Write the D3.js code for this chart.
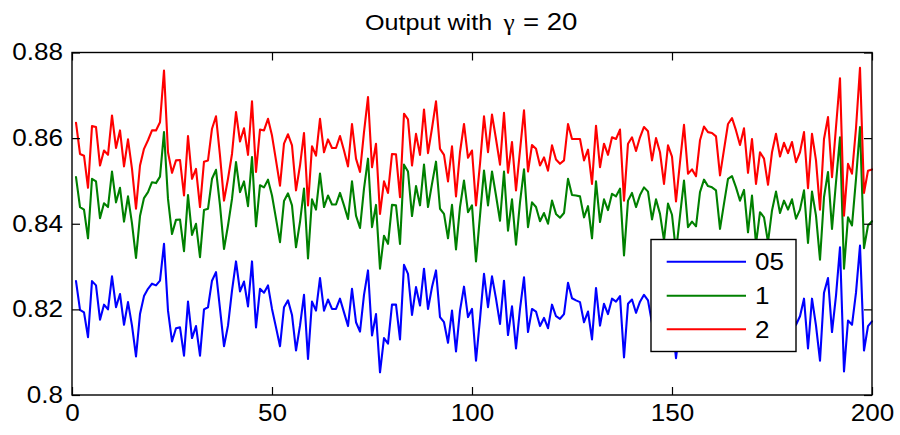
<!DOCTYPE html>
<html>
<head>
<meta charset="utf-8">
<script src="https://cdn.jsdelivr.net/npm/d3@7"></script>
<style>
  html, body { margin: 0; padding: 0; background: #fff; }
  svg { display: block; }
  text { font-family: "Liberation Sans", Arial, Helvetica, sans-serif; fill: #000; }
</style>
</head>
<body>
<svg id="chart" width="900" height="435"></svg>
<script>
// ---------------- data ----------------
const titlePrefix = "Output with";
const titleSymbol = "\u03B3";
const titleSuffix = "= 20";
const seriesNames = ["05", "1", "2"];
const seriesColors = ["#0000ff", "#008000", "#ff0000"];
const xTickValues = [0, 50, 100, 150, 200];
const yTickValues = [0.8, 0.82, 0.84, 0.86, 0.88];
const xDomain = [0, 200];
const yDomain = [0.8, 0.88];

const series05 = [
  0.8266, 0.8199, 0.8193, 0.8135, 0.8266, 0.8256, 0.8176, 0.8211, 0.8200, 0.8277,
  0.8205, 0.8236, 0.8164, 0.8217, 0.8162, 0.8090, 0.8189, 0.8231, 0.8248, 0.8260,
  0.8256, 0.8267, 0.8353, 0.8197, 0.8125, 0.8156, 0.8158, 0.8092, 0.8218, 0.8133,
  0.8161, 0.8092, 0.8200, 0.8205, 0.8267, 0.8287, 0.8201, 0.8114, 0.8162, 0.8244,
  0.8312, 0.8242, 0.8265, 0.8207, 0.8312, 0.8158, 0.8248, 0.8239, 0.8256, 0.8201,
  0.8158, 0.8114, 0.8205, 0.8221, 0.8187, 0.8104, 0.8162, 0.8234, 0.8084, 0.8218,
  0.8197, 0.8273, 0.8197, 0.8223, 0.8201, 0.8201, 0.8225, 0.8193, 0.8161, 0.8248,
  0.8170, 0.8148, 0.8234, 0.8291, 0.8139, 0.8189, 0.8053, 0.8133, 0.8120, 0.8211,
  0.8211, 0.8130, 0.8304, 0.8283, 0.8187, 0.8252, 0.8209, 0.8295, 0.8201, 0.8252,
  0.8291, 0.8182, 0.8170, 0.8122, 0.8197, 0.8102, 0.8197, 0.8253, 0.8182, 0.8201,
  0.8080, 0.8178, 0.8283, 0.8205, 0.8277, 0.8225, 0.8166, 0.8267, 0.8140, 0.8207,
  0.8109, 0.8201, 0.8275, 0.8147, 0.8201, 0.8195, 0.8161, 0.8180, 0.8156, 0.8211,
  0.8184, 0.8178, 0.8189, 0.8262, 0.8226, 0.8221, 0.8217, 0.8170, 0.8195, 0.8130,
  0.8250, 0.8162, 0.8213, 0.8189, 0.8225, 0.8218, 0.8231, 0.8088, 0.8213, 0.8223,
  0.8192, 0.8218, 0.8234, 0.8221, 0.8168, 0.8212, 0.8184, 0.8121, 0.8197, 0.8179,
  0.8086, 0.8165, 0.8239, 0.8141, 0.8150, 0.8137, 0.8207, 0.8235, 0.8224, 0.8222,
  0.8215, 0.8138, 0.8189, 0.8240, 0.8252, 0.8227, 0.8199, 0.8232, 0.8144, 0.8211,
  0.8121, 0.8184, 0.8171, 0.8119, 0.8184, 0.8221, 0.8175, 0.8203, 0.8182, 0.8204,
  0.8164, 0.8184, 0.8225, 0.8109, 0.8225, 0.8162, 0.8080, 0.8239, 0.8273, 0.8147,
  0.8232, 0.8345, 0.8055, 0.8174, 0.8164, 0.8239, 0.8349, 0.8104, 0.8161, 0.8172
];

const series1 = [
  0.8509, 0.8439, 0.8433, 0.8366, 0.8505, 0.8499, 0.8413, 0.8448, 0.8439, 0.8522,
  0.8450, 0.8484, 0.8405, 0.8464, 0.8401, 0.8320, 0.8418, 0.8460, 0.8474, 0.8497,
  0.8495, 0.8510, 0.8614, 0.8458, 0.8376, 0.8409, 0.8410, 0.8336, 0.8467, 0.8374,
  0.8400, 0.8322, 0.8432, 0.8435, 0.8505, 0.8526, 0.8443, 0.8341, 0.8396, 0.8458,
  0.8544, 0.8474, 0.8499, 0.8441, 0.8556, 0.8394, 0.8490, 0.8485, 0.8503, 0.8466,
  0.8412, 0.8357, 0.8453, 0.8471, 0.8443, 0.8345, 0.8404, 0.8482, 0.8319, 0.8457,
  0.8433, 0.8517, 0.8439, 0.8466, 0.8445, 0.8445, 0.8472, 0.8443, 0.8411, 0.8499,
  0.8419, 0.8390, 0.8482, 0.8552, 0.8392, 0.8444, 0.8295, 0.8372, 0.8353, 0.8444,
  0.8443, 0.8353, 0.8538, 0.8522, 0.8418, 0.8488, 0.8443, 0.8538, 0.8439, 0.8493,
  0.8545, 0.8435, 0.8423, 0.8366, 0.8444, 0.8340, 0.8439, 0.8501, 0.8427, 0.8443,
  0.8312, 0.8419, 0.8524, 0.8443, 0.8522, 0.8466, 0.8407, 0.8522, 0.8384, 0.8457,
  0.8351, 0.8450, 0.8527, 0.8392, 0.8450, 0.8439, 0.8406, 0.8425, 0.8400, 0.8454,
  0.8423, 0.8414, 0.8425, 0.8505, 0.8467, 0.8466, 0.8464, 0.8415, 0.8441, 0.8366,
  0.8499, 0.8404, 0.8457, 0.8432, 0.8470, 0.8464, 0.8482, 0.8326, 0.8454, 0.8472,
  0.8439, 0.8467, 0.8485, 0.8475, 0.8410, 0.8457, 0.8423, 0.8361, 0.8447, 0.8421,
  0.8334, 0.8419, 0.8501, 0.8392, 0.8405, 0.8394, 0.8474, 0.8503, 0.8488, 0.8485,
  0.8478, 0.8388, 0.8447, 0.8505, 0.8511, 0.8485, 0.8454, 0.8479, 0.8380, 0.8466,
  0.8353, 0.8427, 0.8415, 0.8357, 0.8431, 0.8475, 0.8425, 0.8454, 0.8433, 0.8457,
  0.8412, 0.8433, 0.8478, 0.8355, 0.8475, 0.8419, 0.8316, 0.8462, 0.8521, 0.8388,
  0.8497, 0.8602, 0.8295, 0.8415, 0.8396, 0.8505, 0.8626, 0.8343, 0.8396, 0.8406
];

const series2 = [
  0.8636, 0.8563, 0.8559, 0.8484, 0.8628, 0.8626, 0.8536, 0.8571, 0.8561, 0.8653,
  0.8577, 0.8618, 0.8534, 0.8597, 0.8528, 0.8435, 0.8536, 0.8575, 0.8595, 0.8618,
  0.8618, 0.8637, 0.8758, 0.8567, 0.8519, 0.8548, 0.8549, 0.8466, 0.8605, 0.8505,
  0.8528, 0.8439, 0.8545, 0.8548, 0.8622, 0.8651, 0.8559, 0.8454, 0.8505, 0.8563,
  0.8661, 0.8592, 0.8623, 0.8561, 0.8686, 0.8521, 0.8620, 0.8618, 0.8645, 0.8606,
  0.8548, 0.8489, 0.8587, 0.8609, 0.8583, 0.8478, 0.8536, 0.8612, 0.8443, 0.8581,
  0.8559, 0.8645, 0.8567, 0.8597, 0.8577, 0.8577, 0.8605, 0.8571, 0.8534, 0.8633,
  0.8552, 0.8521, 0.8614, 0.8696, 0.8532, 0.8587, 0.8423, 0.8499, 0.8472, 0.8563,
  0.8562, 0.8462, 0.8657, 0.8644, 0.8536, 0.8610, 0.8561, 0.8667, 0.8565, 0.8623,
  0.8686, 0.8575, 0.8561, 0.8499, 0.8581, 0.8464, 0.8567, 0.8633, 0.8554, 0.8571,
  0.8443, 0.8540, 0.8651, 0.8567, 0.8655, 0.8598, 0.8538, 0.8659, 0.8519, 0.8591,
  0.8478, 0.8571, 0.8665, 0.8522, 0.8584, 0.8575, 0.8536, 0.8555, 0.8524, 0.8583,
  0.8550, 0.8540, 0.8548, 0.8633, 0.8598, 0.8598, 0.8598, 0.8548, 0.8573, 0.8493,
  0.8629, 0.8532, 0.8587, 0.8561, 0.8602, 0.8598, 0.8620, 0.8454, 0.8587, 0.8602,
  0.8570, 0.8602, 0.8626, 0.8616, 0.8548, 0.8600, 0.8567, 0.8493, 0.8583, 0.8557,
  0.8452, 0.8544, 0.8631, 0.8517, 0.8527, 0.8511, 0.8595, 0.8627, 0.8614, 0.8612,
  0.8604, 0.8513, 0.8573, 0.8633, 0.8647, 0.8618, 0.8584, 0.8623, 0.8519, 0.8598,
  0.8493, 0.8567, 0.8552, 0.8491, 0.8567, 0.8610, 0.8557, 0.8589, 0.8565, 0.8591,
  0.8544, 0.8567, 0.8614, 0.8483, 0.8610, 0.8548, 0.8433, 0.8598, 0.8649, 0.8509,
  0.8626, 0.8740, 0.8419, 0.8540, 0.8517, 0.8623, 0.8764, 0.8472, 0.8524, 0.8527
];

const seriesValues = [series05, series1, series2];

// ---------------- layout ----------------
const plotLeft = 72, plotRight = 872, plotTop = 52.5, plotBottom = 395;
const fontStack = '"Liberation Sans", Arial, Helvetica, sans-serif';
const tickFontSize = 23.3;
const stretch = 1.12;

const svg = d3.select("#chart");

const x = d3.scaleLinear().domain(xDomain).range([plotLeft, plotRight]);
const y = d3.scaleLinear().domain(yDomain).range([plotBottom, plotTop]);

svg.append("rect").attr("x", 0).attr("y", 0).attr("width", 900).attr("height", 435).attr("fill", "#fff");

// data lines
const line = d3.line()
  .x((d, i) => x(i + 1))
  .y(d => y(d));

svg.append("g").selectAll("path")
  .data(seriesValues)
  .join("path")
  .attr("d", d => line(d))
  .attr("fill", "none")
  .attr("stroke", (d, i) => seriesColors[i])
  .attr("stroke-width", 2.1)
  .attr("stroke-linejoin", "round")
  .attr("stroke-linecap", "round");

// axes
const styleAxis = g => {
  g.select(".domain").remove();
  g.selectAll(".tick line").attr("stroke", "#000").attr("stroke-width", 1.2);
  g.selectAll(".tick text")
    .attr("fill", "#000")
    .style("font-family", fontStack)
    .style("font-size", tickFontSize + "px")
    .attr("transform", `scale(${stretch},1)`);
};

svg.append("g")
  .attr("transform", `translate(0,${plotBottom})`)
  .call(d3.axisBottom(x).tickValues(xTickValues).tickFormat(d3.format("d"))
    .tickSizeInner(-8).tickSizeOuter(0).tickPadding(9))
  .call(styleAxis);

svg.append("g")
  .attr("transform", `translate(${plotLeft},0)`)
  .call(d3.axisLeft(y).tickValues(yTickValues).tickFormat(d => String(+d.toFixed(2)))
    .tickSizeInner(-8).tickSizeOuter(0).tickPadding(8))
  .call(styleAxis);

svg.append("g")
  .attr("transform", `translate(0,${plotTop})`)
  .call(d3.axisTop(x).tickValues(xTickValues).tickFormat("")
    .tickSizeInner(-8).tickSizeOuter(0))
  .call(styleAxis);

svg.append("g")
  .attr("transform", `translate(${plotRight},0)`)
  .call(d3.axisRight(y).tickValues(yTickValues).tickFormat("")
    .tickSizeInner(-8).tickSizeOuter(0))
  .call(styleAxis);

// box
svg.append("rect")
  .attr("x", plotLeft).attr("y", plotTop)
  .attr("width", plotRight - plotLeft).attr("height", plotBottom - plotTop)
  .attr("fill", "none").attr("stroke", "#000").attr("stroke-width", 1.4);

// title (pieces placed as in the reference)
const title = svg.append("g");
title.append("text")
  .attr("transform", "translate(365,30) scale(1.17,1)")
  .style("font-size", "21.5px")
  .text(titlePrefix);
title.append("text")
  .attr("transform", "translate(509,30) scale(1.1,1)")
  .attr("text-anchor", "middle")
  .style("font-family", '"Liberation Serif", "DejaVu Serif", serif')
  .style("font-size", "23px")
  .text(titleSymbol);
title.append("text")
  .attr("transform", "translate(523,30) scale(1.2,1)")
  .style("font-size", "23px")
  .text(titleSuffix);

// legend
const legendX = 651, legendY = 239.5, legendW = 145, legendH = 112;
const legendRowY = [261.7, 295.7, 329.3];
const legend = svg.append("g");
legend.append("rect")
  .attr("x", legendX).attr("y", legendY)
  .attr("width", legendW).attr("height", legendH)
  .attr("fill", "#fff").attr("stroke", "#000").attr("stroke-width", 1.4);

const rows = legend.selectAll("g.row")
  .data(seriesNames)
  .join("g").attr("class", "row");
rows.append("line")
  .attr("x1", 666.7).attr("x2", 746)
  .attr("y1", (d, i) => legendRowY[i]).attr("y2", (d, i) => legendRowY[i])
  .attr("stroke", (d, i) => seriesColors[i]).attr("stroke-width", 2.1);
rows.append("text")
  .attr("transform", (d, i) => `translate(755,${legendRowY[i] + 8.3}) scale(${stretch},1)`)
  .style("font-size", tickFontSize + "px")
  .text(d => d);
</script>
</body>
</html>
